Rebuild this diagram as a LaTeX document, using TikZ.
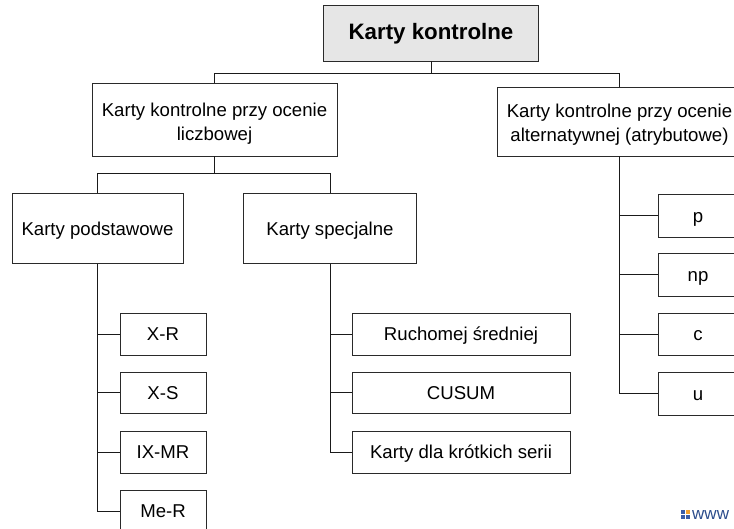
\documentclass[tikz,border=0pt]{standalone}
\usepackage{fontspec}
\setmainfont{Liberation Sans}
\definecolor{lineC}{HTML}{1A1A1A}
\definecolor{boxC}{HTML}{2A2A2A}
\definecolor{titleFill}{HTML}{E6E6E6}
\definecolor{wwwBlue}{HTML}{2B4C8C}
\definecolor{logoOrange}{HTML}{F0A030}
\definecolor{logoBlue}{HTML}{3A5DA8}
\begin{document}
\begin{tikzpicture}[x=1pt,y=-1pt,
  box/.style={draw=boxC, line width=0.9pt, fill=white, align=center, inner sep=0pt,
    text height=13.2pt, text depth=0pt,
    font=\fontsize{18.6pt}{24pt}\selectfont},
  conn/.style={draw=lineC, line width=0.95pt}]
\useasboundingbox (0,0) rectangle (734,528);
\clip (0,0) rectangle (734,528);
% title
\node[box, fill=titleFill, minimum width=215pt, minimum height=56pt, text height=12.6pt,
  font=\fontsize{22.3pt}{26pt}\selectfont\bfseries] (top) at (431,33) {Karty kontrolne};
% level 1
\node[box, minimum width=245pt, minimum height=73pt, text height=41pt] (l1) at (214.5,119.5)
  {Karty kontrolne przy ocenie\\liczbowej};
\node[box, minimum width=245pt, minimum height=69pt, text height=39pt] (r1) at (619.5,121.5)
  {Karty kontrolne przy ocenie\\alternatywnej (atrybutowe)};
% level 2
\node[box, minimum width=171pt, minimum height=70pt] (pod) at (97.5,228.5) {Karty podstawowe};
\node[box, minimum width=173pt, minimum height=70pt] (spec) at (330,228.5) {Karty specjalne};
% basic cards
\node[box, minimum width=86pt, minimum height=42pt] (xr) at (163,334) {X-R};
\node[box, minimum width=86pt, minimum height=41pt] (xs) at (163,392.5) {X-S};
\node[box, minimum width=86pt, minimum height=42pt] (ixmr) at (163,452) {IX-MR};
\node[box, minimum width=86pt, minimum height=42pt] (mer) at (163,511) {Me-R};
% special cards
\node[box, minimum width=218pt, minimum height=42pt] (ruch) at (461,334) {Ruchomej średniej};
\node[box, minimum width=218pt, minimum height=41pt] (cusum) at (461,392.5) {CUSUM};
\node[box, minimum width=218pt, minimum height=42pt] (krot) at (461,452) {Karty dla krótkich serii};
% attribute cards
\node[box, minimum width=80pt, minimum height=43pt] (p) at (698,215.5) {p};
\node[box, minimum width=80pt, minimum height=43pt] (np) at (698,274.5) {np};
\node[box, minimum width=80pt, minimum height=42pt] (c) at (698,334) {c};
\node[box, minimum width=80pt, minimum height=43pt] (u) at (698,393.5) {u};
% buses
\coordinate (busA) at (0,73);
\coordinate (busB) at (0,173);
\draw[conn] (top.south) -- (top.south |- busA);
\draw[conn] (l1.north) |- (r1.north |- busA) -- (r1.north);
\draw[conn] (l1.south) -- (l1.south |- busB);
\draw[conn] (pod.north) |- (spec.north |- busB) -- (spec.north);
% left tree
\draw[conn] (pod.south) |- (mer.west);
\draw[conn] (xr.west) -- (xr.west -| pod.south);
\draw[conn] (xs.west) -- (xs.west -| pod.south);
\draw[conn] (ixmr.west) -- (ixmr.west -| pod.south);
% special tree
\draw[conn] (spec.south) |- (krot.west);
\draw[conn] (ruch.west) -- (ruch.west -| spec.south);
\draw[conn] (cusum.west) -- (cusum.west -| spec.south);
% attribute tree
\draw[conn] (r1.south) |- (u.west);
\draw[conn] (p.west) -- (p.west -| r1.south);
\draw[conn] (np.west) -- (np.west -| r1.south);
\draw[conn] (c.west) -- (c.west -| r1.south);
% watermark logo
\fill[logoBlue] (681,510) rectangle (685,514);
\fill[logoOrange] (685.6,510) rectangle (689.6,514);
\fill[logoBlue] (681,514.6) rectangle (685,518.6);
\fill[logoBlue] (685.6,514.6) rectangle (689.6,518.6);
\node[anchor=base west, inner sep=0pt, text=wwwBlue, font=\fontsize{17pt}{20pt}\selectfont] (www) at (692,519.5) {www};
\end{tikzpicture}
\end{document}
